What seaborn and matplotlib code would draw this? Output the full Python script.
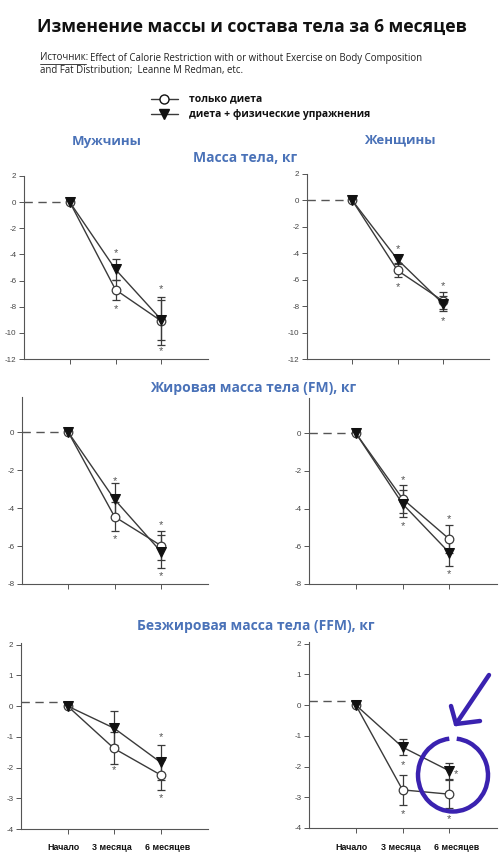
import numpy as np
import pandas as pd
import matplotlib
matplotlib.use("Agg")
import matplotlib.pyplot as plt
import matplotlib.transforms as mtransforms
from matplotlib.lines import Line2D
from matplotlib.patches import Arc
import seaborn as sns

# %%
# data
times = ["Начало", "3 месяца", "6 месяцев"]

men_mass_diet = [0, -6.7, -9.1]
men_mass_diet_err = [0, 0.75, 1.85]
men_mass_ex = [0, -5.15, -9.0]
men_mass_ex_err = [0, 0.8, 1.55]
men_mass_star_hi = [-3.9, -6.65]
men_mass_star_lo = [-8.2, -11.4]

women_mass_diet = [0, -5.3, -7.6]
women_mass_diet_err = [0, 0.5, 0.65]
women_mass_ex = [0, -4.47, -7.8]
women_mass_ex_err = [0, 0.3, 0.55]
women_mass_star_hi = [-3.65, -6.45]
women_mass_star_lo = [-6.55, -9.1]

men_fm_diet = [0, -4.45, -5.97]
men_fm_diet_err = [0, 0.78, 0.74]
men_fm_ex = [0, -3.54, -6.29]
men_fm_ex_err = [0, 0.85, 0.85]
men_fm_star_hi = [-2.55, -4.9]
men_fm_star_lo = [-5.65, -7.6]

women_fm_diet = [0, -3.48, -5.62]
women_fm_diet_err = [0, 0.73, 0.73]
women_fm_ex = [0, -3.75, -6.34]
women_fm_ex_err = [0, 0.72, 0.7]
women_fm_star_hi = [-2.5, -4.55]
women_fm_star_lo = [-4.92, -7.5]

men_ffm_diet = [0, -1.38, -2.24]
men_ffm_diet_err = [0, 0.52, 0.5]
men_ffm_ex = [0, -0.72, -1.83]
men_ffm_ex_err = [0, 0.56, 0.56]
men_ffm_star_hi = [None, -1.0]
men_ffm_star_lo = [-2.08, -2.98]

women_ffm_diet = [0, -2.76, -2.9]
women_ffm_diet_err = [0, 0.49, 0.45]
women_ffm_ex = [0, -1.37, -2.14]
women_ffm_ex_err = [0, 0.25, 0.27]
women_ffm_star_hi = [-1.95, -2.26]
women_ffm_star_lo = [-3.55, -3.7]

# %%
sns.set_style("ticks")
plt.rcParams["font.family"] = ["Liberation Sans", "DejaVu Sans"]

W, H = 502, 861
fig = plt.figure(figsize=(W / 100, H / 100), dpi=100)

def px_axes(left, right, top, bottom):
    return fig.add_axes([left / W, 1 - bottom / H, (right - left) / W, (bottom - top) / H])

line_col = "#3a3a3a"
blue = "#4a72b8"

def draw_panel(ax, diet, diet_err, ex, ex_err, star_hi, star_lo, ylim, yticks,
               base=0.0, xlabels=False, hi_dx=(0, 0)):
    df = pd.DataFrame({"t": [0, 1, 2] * 2,
                       "v": diet + ex,
                       "grp": ["diet"] * 3 + ["ex"] * 3})
    # dashed baseline from the axis to the first point
    ax.plot([-1.0, 0], [base, base], ls=(0, (6, 4)), color="#555555", lw=1.0, zorder=1)
    ax.errorbar([0, 1, 2], diet, yerr=diet_err, fmt="none", ecolor=line_col,
                elinewidth=0.9, capsize=3.2, capthick=0.9, zorder=2)
    ax.errorbar([0, 1, 2], ex, yerr=ex_err, fmt="none", ecolor=line_col,
                elinewidth=0.9, capsize=3.2, capthick=0.9, zorder=2)
    sns.lineplot(data=df[df.grp == "diet"], x="t", y="v", ax=ax, color=line_col,
                 lw=1.0, marker="o", markersize=6.2, markerfacecolor="white",
                 markeredgecolor=line_col, markeredgewidth=0.9, zorder=3)
    sns.lineplot(data=df[df.grp == "ex"], x="t", y="v", ax=ax, color=line_col,
                 lw=1.0, marker="v", markersize=6.5, markerfacecolor="#111111",
                 markeredgecolor="#111111", zorder=4)
    for i, (hi, lo) in enumerate(zip(star_hi, star_lo)):
        if hi is not None:
            ax.text(i + 1 + hi_dx[i], hi, "*", ha="center", va="center",
                    fontsize=8, color="#555555")
        if lo is not None:
            ax.text(i + 1, lo, "*", ha="center", va="center",
                    fontsize=8, color="#555555")
    ax.set_xlim(-1.0, 3.02)
    ax.set_ylim(*ylim)
    ax.set_yticks(yticks)
    ax.set_yticklabels([str(t) for t in yticks], fontsize=5.8, color="#444444")
    ax.set_xticks([0, 1, 2])
    ax.set_xticklabels([])
    if xlabels:
        # labels in the original sit a bit wider apart than the ticks
        for i, (name, dx) in enumerate(zip(times, [-4, -2, 7])):
            tr = mtransforms.offset_copy(ax.get_xaxis_transform(), fig=fig,
                                         x=dx, y=-19, units="dots")
            ax.text(i, 0, name, transform=tr, ha="center", va="center",
                    fontsize=6.4, fontweight="bold", color="#111111")
    ax.set_xlabel("")
    ax.set_ylabel("")
    ax.tick_params(length=3.5, width=0.7, color="#555555", pad=2)
    for s in ["top", "right"]:
        ax.spines[s].set_visible(False)
    for s in ["left", "bottom"]:
        ax.spines[s].set_color("#555555")
        ax.spines[s].set_linewidth(0.8)

ax1 = px_axes(24, 208, 176, 359)
draw_panel(ax1, men_mass_diet, men_mass_diet_err, men_mass_ex, men_mass_ex_err,
           men_mass_star_hi, men_mass_star_lo, (-12, 2), list(range(-12, 3, 2)))
ax2 = px_axes(307, 489, 174, 359)
draw_panel(ax2, women_mass_diet, women_mass_diet_err, women_mass_ex, women_mass_ex_err,
           women_mass_star_hi, women_mass_star_lo, (-12, 2), list(range(-12, 3, 2)))
ax3 = px_axes(22, 208, 397, 584)
draw_panel(ax3, men_fm_diet, men_fm_diet_err, men_fm_ex, men_fm_ex_err,
           men_fm_star_hi, men_fm_star_lo, (-8, 1.86), list(range(-8, 1, 2)))
ax4 = px_axes(309, 497, 398, 584)
draw_panel(ax4, women_fm_diet, women_fm_diet_err, women_fm_ex, women_fm_ex_err,
           women_fm_star_hi, women_fm_star_lo, (-8, 1.86), list(range(-8, 1, 2)))
ax5 = px_axes(21, 208, 643, 829)
draw_panel(ax5, men_ffm_diet, men_ffm_diet_err, men_ffm_ex, men_ffm_ex_err,
           men_ffm_star_hi, men_ffm_star_lo, (-4, 2.05), list(range(-4, 3)),
           base=0.13, xlabels=True)
ax6 = px_axes(309, 497, 642, 828)
draw_panel(ax6, women_ffm_diet, women_ffm_diet_err, women_ffm_ex, women_ffm_ex_err,
           women_ffm_star_hi, women_ffm_star_lo, (-4, 2.05), list(range(-4, 3)),
           base=0.13, xlabels=True, hi_dx=(0, 0.15))

# %%
# texts
def ftext(x, y, s, **kw):
    fig.text(x / W, 1 - y / H, s, **kw)

ftext(252, 27, "Изменение массы и состава тела за 6 месяцев", ha="center", va="center",
      fontsize=12.6, fontweight="bold", family=["Open Sans", "DejaVu Sans"], color="#111111")
ftext(40, 58, "Источник:", ha="left", va="center", fontsize=6.9,
      family=["Open Sans", "DejaVu Sans"], color="#222222")
fig.add_artist(Line2D([40 / W, 86 / W], [1 - 63.5 / H, 1 - 63.5 / H], color="#222222", lw=0.6))
ftext(90, 58, "Effect of Calorie Restriction with or without Exercise on Body Composition",
      ha="left", va="center", fontsize=6.9, family=["Open Sans", "DejaVu Sans"], color="#222222")
ftext(40, 71, "and Fat Distribution;  Leanne M Redman, etc.", ha="left", va="center",
      fontsize=6.9, family=["Open Sans", "DejaVu Sans"], color="#222222")

# legend
for yy, mk, fc in [(99, "o", "white"), (114, "v", "#111111")]:
    fig.add_artist(Line2D([151 / W, 178 / W], [1 - yy / H, 1 - yy / H], color=line_col, lw=1.0))
    fig.add_artist(Line2D([164.5 / W], [1 - yy / H], marker=mk, markersize=6.5,
                          markerfacecolor=fc, markeredgecolor="#111111", lw=0))
ftext(189, 99, "только диета", ha="left", va="center", fontsize=7.5, fontweight="bold",
      family=["Open Sans", "DejaVu Sans"], color="#111111")
ftext(189, 114, "диета + физические упражнения", ha="left", va="center", fontsize=7.5,
      fontweight="bold", family=["Open Sans", "DejaVu Sans"], color="#111111")

sec = dict(ha="center", va="center", fontweight="bold", color=blue,
           family=["Open Sans", "DejaVu Sans"])
ftext(107, 141, "Мужчины", fontsize=9.5, **sec)
ftext(400, 140, "Женщины", fontsize=9.5, **sec)
ftext(245, 158, "Масса тела, кг", fontsize=10, **sec)
ftext(253, 388, "Жировая масса тела (FM), кг", fontsize=10, **sec)
ftext(256, 626, "Безжировая масса тела (FFM), кг", fontsize=10, **sec)

# hand-drawn purple mark
purple = "#3a22b0"
fig.add_artist(Arc((453 / W, 1 - 775 / H), 70 / W, 73 / H, theta1=100, theta2=440,
                   color=purple, lw=3.2, transform=fig.transFigure))
for (x0, y0), (x1, y1) in [((489, 675), (456, 724)), ((451, 706), (456, 724)),
                           ((456, 724), (480, 721))]:
    fig.add_artist(Line2D([x0 / W, x1 / W], [1 - y0 / H, 1 - y1 / H], color=purple,
                          lw=3.2, solid_capstyle="round"))

fig.savefig("out.png", dpi=100)
